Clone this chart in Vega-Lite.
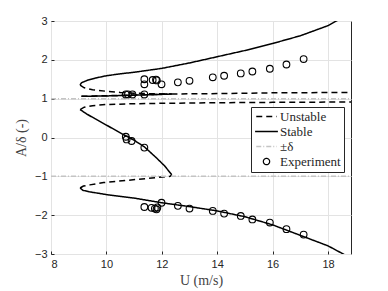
{
  "$schema": "https://vega.github.io/schema/vega-lite/v6.json",
  "width": 300,
  "height": 233,
  "autosize": "none",
  "padding": {"left": 51, "top": 21, "right": 37, "bottom": 37},
  "background": "white",
  "config": {
    "view": {"stroke": "#262626", "strokeWidth": 1},
    "axis": {
      "labelFont": "Liberation Sans", "labelFontSize": 11, "labelColor": "#262626",
      "titleFont": "Liberation Serif", "titleFontSize": 14, "titleColor": "#444444", "titleFontWeight": "normal",
      "gridColor": "#e3e3e3", "gridWidth": 1, "domain": false,
      "tickColor": "#262626", "tickSize": -3, "labelPadding": 7
    }
  },
  "datasets": {
    "curves": [
      {"b":"S1","t":"Stable","o":0,"U":9.05,"A":1.35},{"b":"S1","t":"Stable","o":1,"U":9.1,"A":1.41},{"b":"S1","t":"Stable","o":2,"U":9.3,"A":1.47},{"b":"S1","t":"Stable","o":3,"U":9.6,"A":1.53},{"b":"S1","t":"Stable","o":4,"U":10,"A":1.59},{"b":"S1","t":"Stable","o":5,"U":10.5,"A":1.64},{"b":"S1","t":"Stable","o":6,"U":11,"A":1.68},{"b":"S1","t":"Stable","o":7,"U":12,"A":1.78},{"b":"S1","t":"Stable","o":8,"U":13,"A":1.92},{"b":"S1","t":"Stable","o":9,"U":14,"A":2.08},{"b":"S1","t":"Stable","o":10,"U":15,"A":2.24},{"b":"S1","t":"Stable","o":11,"U":16,"A":2.42},{"b":"S1","t":"Stable","o":12,"U":17,"A":2.62},{"b":"S1","t":"Stable","o":13,"U":18,"A":2.88},{"b":"S1","t":"Stable","o":14,"U":18.3,"A":3.0},{"b":"S1","t":"Stable","o":15,"U":18.5,"A":3.08},
      {"b":"S2","t":"Stable","o":0,"U":9.1,"A":1.06},{"b":"S2","t":"Stable","o":1,"U":10,"A":1.07},{"b":"S2","t":"Stable","o":2,"U":11,"A":1.09},{"b":"S2","t":"Stable","o":3,"U":12,"A":1.11},{"b":"S2","t":"Stable","o":4,"U":12.36,"A":1.12},
      {"b":"S3","t":"Stable","o":0,"U":9.05,"A":0.72},{"b":"S3","t":"Stable","o":1,"U":9.3,"A":0.6},{"b":"S3","t":"Stable","o":2,"U":9.6,"A":0.48},{"b":"S3","t":"Stable","o":3,"U":10,"A":0.32},{"b":"S3","t":"Stable","o":4,"U":10.6,"A":0.08},{"b":"S3","t":"Stable","o":5,"U":11,"A":-0.07},{"b":"S3","t":"Stable","o":6,"U":11.37,"A":-0.24},{"b":"S3","t":"Stable","o":7,"U":11.8,"A":-0.52},{"b":"S3","t":"Stable","o":8,"U":12.1,"A":-0.73},{"b":"S3","t":"Stable","o":9,"U":12.36,"A":-0.96},
      {"b":"S4","t":"Stable","o":0,"U":9.05,"A":-1.30},{"b":"S4","t":"Stable","o":1,"U":9.15,"A":-1.36},{"b":"S4","t":"Stable","o":2,"U":9.4,"A":-1.40},{"b":"S4","t":"Stable","o":3,"U":10,"A":-1.47},{"b":"S4","t":"Stable","o":4,"U":11,"A":-1.56},{"b":"S4","t":"Stable","o":5,"U":12,"A":-1.68},{"b":"S4","t":"Stable","o":6,"U":13,"A":-1.78},{"b":"S4","t":"Stable","o":7,"U":14,"A":-1.89},{"b":"S4","t":"Stable","o":8,"U":15,"A":-2.04},{"b":"S4","t":"Stable","o":9,"U":16,"A":-2.25},{"b":"S4","t":"Stable","o":10,"U":17,"A":-2.52},{"b":"S4","t":"Stable","o":11,"U":18,"A":-2.79},{"b":"S4","t":"Stable","o":12,"U":18.55,"A":-3.0},{"b":"S4","t":"Stable","o":13,"U":18.8,"A":-3.1},
      {"b":"D1","t":"Unstable","o":0,"U":9.05,"A":1.35},{"b":"D1","t":"Unstable","o":1,"U":9.2,"A":1.28},{"b":"D1","t":"Unstable","o":2,"U":9.5,"A":1.23},{"b":"D1","t":"Unstable","o":3,"U":10,"A":1.19},{"b":"D1","t":"Unstable","o":4,"U":10.5,"A":1.16},{"b":"D1","t":"Unstable","o":5,"U":11,"A":1.14},{"b":"D1","t":"Unstable","o":6,"U":11.5,"A":1.13},{"b":"D1","t":"Unstable","o":7,"U":12.36,"A":1.12},
      {"b":"D2","t":"Unstable","o":0,"U":9.1,"A":1.06},{"b":"D2","t":"Unstable","o":1,"U":12.36,"A":1.12},{"b":"D2","t":"Unstable","o":2,"U":14,"A":1.13},{"b":"D2","t":"Unstable","o":3,"U":16,"A":1.15},{"b":"D2","t":"Unstable","o":4,"U":18.83,"A":1.16},
      {"b":"D3","t":"Unstable","o":0,"U":9.05,"A":0.72},{"b":"D3","t":"Unstable","o":1,"U":9.2,"A":0.78},{"b":"D3","t":"Unstable","o":2,"U":9.5,"A":0.82},{"b":"D3","t":"Unstable","o":3,"U":10,"A":0.85},{"b":"D3","t":"Unstable","o":4,"U":11,"A":0.87},{"b":"D3","t":"Unstable","o":5,"U":12,"A":0.88},{"b":"D3","t":"Unstable","o":6,"U":14,"A":0.895},{"b":"D3","t":"Unstable","o":7,"U":16,"A":0.905},{"b":"D3","t":"Unstable","o":8,"U":18.83,"A":0.915},
      {"b":"D4","t":"Unstable","o":0,"U":9.05,"A":-1.30},{"b":"D4","t":"Unstable","o":1,"U":9.17,"A":-1.25},{"b":"D4","t":"Unstable","o":2,"U":9.4,"A":-1.22},{"b":"D4","t":"Unstable","o":3,"U":9.9,"A":-1.16},{"b":"D4","t":"Unstable","o":4,"U":11.1,"A":-1.08},{"b":"D4","t":"Unstable","o":5,"U":12.3,"A":-1.0},{"b":"D4","t":"Unstable","o":6,"U":12.36,"A":-0.96},
      {"b":"G1","t":"±δ","o":0,"U":8,"A":1},{"b":"G1","t":"±δ","o":1,"U":18.83,"A":1},
      {"b":"G2","t":"±δ","o":0,"U":8,"A":-1},{"b":"G2","t":"±δ","o":1,"U":18.83,"A":-1}
    ],
    "exp": [
      {"t":"Experiment","U":11.37,"A":1.50},{"t":"Experiment","U":11.37,"A":1.37},{"t":"Experiment","U":11.67,"A":1.48},{"t":"Experiment","U":11.79,"A":1.49},{"t":"Experiment","U":11.82,"A":1.47},{"t":"Experiment","U":11.99,"A":1.37},{"t":"Experiment","U":12.58,"A":1.42},{"t":"Experiment","U":13.0,"A":1.46},{"t":"Experiment","U":13.84,"A":1.55},{"t":"Experiment","U":14.25,"A":1.59},{"t":"Experiment","U":14.85,"A":1.65},{"t":"Experiment","U":15.27,"A":1.70},{"t":"Experiment","U":15.9,"A":1.77},{"t":"Experiment","U":16.5,"A":1.88},{"t":"Experiment","U":17.12,"A":2.02},
      {"t":"Experiment","U":10.7,"A":1.11},{"t":"Experiment","U":10.78,"A":1.11},{"t":"Experiment","U":10.94,"A":1.11},{"t":"Experiment","U":11.37,"A":1.11},
      {"t":"Experiment","U":10.7,"A":0.02},{"t":"Experiment","U":10.73,"A":-0.05},{"t":"Experiment","U":10.91,"A":-0.09},{"t":"Experiment","U":11.37,"A":-0.26},
      {"t":"Experiment","U":11.37,"A":-1.79},{"t":"Experiment","U":11.63,"A":-1.81},{"t":"Experiment","U":11.75,"A":-1.83},{"t":"Experiment","U":11.81,"A":-1.85},{"t":"Experiment","U":11.84,"A":-1.80},{"t":"Experiment","U":11.99,"A":-1.68},{"t":"Experiment","U":12.58,"A":-1.76},{"t":"Experiment","U":13.0,"A":-1.83},{"t":"Experiment","U":13.84,"A":-1.89},{"t":"Experiment","U":14.25,"A":-1.96},{"t":"Experiment","U":14.85,"A":-2.02},{"t":"Experiment","U":15.27,"A":-2.11},{"t":"Experiment","U":15.9,"A":-2.19},{"t":"Experiment","U":16.5,"A":-2.36},{"t":"Experiment","U":17.12,"A":-2.50}
    ]
  },
  "encoding": {
    "x": {"field": "U", "type": "quantitative", "scale": {"domain": [8, 18.83], "nice": false, "zero": false},
          "axis": {"values": [8, 10, 12, 14, 16, 18], "title": "U (m/s)", "titlePadding": 4}},
    "y": {"field": "A", "type": "quantitative", "scale": {"domain": [-3, 3], "nice": false, "zero": false},
          "axis": {"values": [-3, -2, -1, 0, 1, 2, 3], "title": "A/δ (-)", "titlePadding": 6}},
    "color": {"field": "t", "type": "nominal",
              "scale": {"domain": ["Unstable", "Stable", "±δ", "Experiment"], "range": ["#000000", "#000000", "#c4c4c4", "#000000"]},
              "legend": {
                "title": null, "orient": "none", "legendX": 200, "legendY": 86,
                "fillColor": "white", "strokeColor": "#262626", "padding": 3, "cornerRadius": 0,
                "labelFont": "Liberation Serif", "labelFontSize": 13, "labelColor": "#262626",
                "symbolType": "stroke", "symbolSize": 100, "symbolStrokeWidth": 1.5, "symbolOffset": 6, "labelOffset": 7, "rowPadding": 1,
                "encode": {"symbols": {"update": {
                  "shape": {"signal": "datum.value === 'Experiment' ? 'circle' : 'stroke'"},
                  "size": {"signal": "datum.value === 'Experiment' ? 40 : (datum.value === 'Stable' ? 520 : 420)"},
                  "fill": {"value": "transparent"},
                  "strokeWidth": {"signal": "datum.value === 'Experiment' ? 1.2 : 1.5"}
                }}}
              }}
  },
  "layer": [
    {
      "data": {"name": "curves"},
      "mark": {"type": "line", "strokeWidth": 1.5, "clip": true},
      "encoding": {
        "detail": {"field": "b"},
        "order": {"field": "o", "type": "quantitative"},
        "strokeDash": {"field": "t", "type": "nominal",
                       "scale": {"domain": ["Unstable", "Stable", "±δ", "Experiment"], "range": [[6, 4], [1, 0], [5, 2, 1, 2], [1, 0]]}}
      }
    },
    {
      "data": {"name": "exp"},
      "mark": {"type": "point", "filled": false, "size": 45, "strokeWidth": 1.1, "opacity": 1},
      "encoding": {}
    }
  ]
}
